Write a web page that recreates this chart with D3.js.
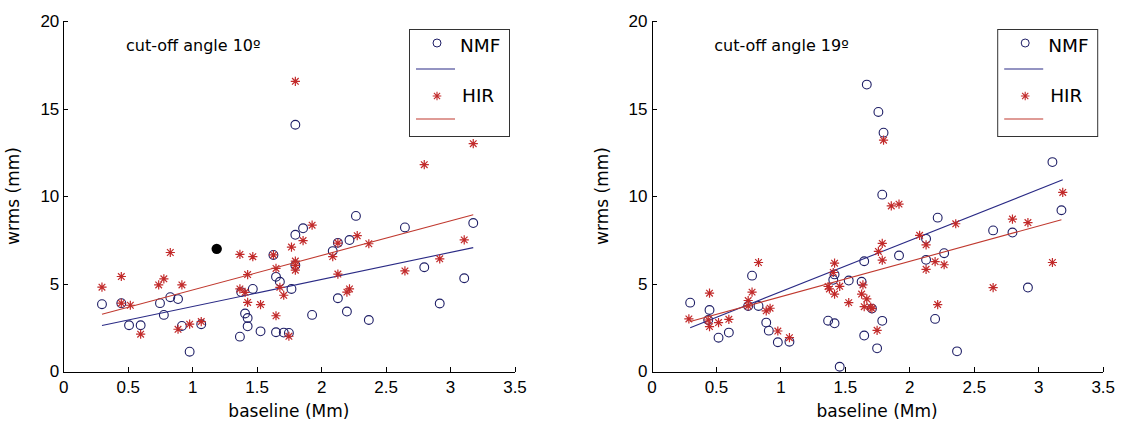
<!DOCTYPE html>
<html>
<head>
<meta charset="utf-8">
<script src="https://cdn.jsdelivr.net/npm/d3@7"></script>
<style>
  body { margin: 0; background: #fff; }
  svg { display: block; font-family: "DejaVu Sans", sans-serif; }
  .axis path, .axis line { stroke: #000; stroke-width: 1; shape-rendering: crispEdges; }
  .axis text { font-size: 17px; fill: #000; }
</style>
</head>
<body>
<svg id="chart" width="1124" height="423"></svg>
<script>
// tick labels and texts
var xTicks = [0, 0.5, 1, 1.5, 2, 2.5, 3, 3.5];
var yTicks = [0, 5, 10, 15, 20];
var titles = ["cut-off angle 10º", "cut-off angle 19º"];
var legendLabels = ["NMF", "HIR"];

// cut-off 10 deg, NMF (baseline Mm, wrms mm)
var nmf10 = [[0.30,3.84],[0.45,3.90],[0.51,2.64],[0.60,2.64],[0.75,3.90],[0.78,3.23],[0.83,4.24],[0.89,4.13],
  [0.92,2.60],[0.98,1.13],[1.07,2.70],[1.37,1.99],[1.38,4.53],[1.41,3.31],[1.43,3.05],[1.43,2.58],[1.47,4.71],
  [1.53,2.29],[1.63,6.65],[1.65,5.40],[1.68,5.12],[1.65,2.24],[1.71,2.22],[1.75,2.20],[1.77,4.71],[1.80,6.06],
  [1.80,7.80],[1.80,14.08],[1.86,8.17],[1.93,3.23],[2.09,6.87],[2.13,7.34],[2.13,4.18],[2.20,3.42],[2.22,7.50],
  [2.27,8.88],[2.37,2.94],[2.65,8.22],[2.80,5.95],[2.92,3.88],[3.11,5.32],[3.18,8.47]];
// cut-off 10 deg, HIR
var hir10 = [[0.30,4.81],[0.45,5.42],[0.45,3.90],[0.52,3.78],[0.60,2.13],[0.74,4.94],[0.78,5.29],[0.83,6.79],
  [0.89,2.41],[0.92,4.94],[0.98,2.70],[1.07,2.85],[1.37,6.68],[1.37,4.71],[1.41,4.52],[1.43,5.53],[1.43,3.94],
  [1.47,6.55],[1.53,3.82],[1.63,6.65],[1.65,5.88],[1.65,3.18],[1.68,4.80],[1.71,4.35],[1.75,2.01],[1.77,7.10],
  [1.80,6.30],[1.80,6.05],[1.80,5.78],[1.80,16.56],[1.86,7.47],[1.93,8.35],[2.09,6.56],[2.13,7.33],[2.13,5.56],
  [2.20,4.53],[2.22,4.71],[2.28,7.75],[2.37,7.29],[2.65,5.74],[2.80,11.80],[2.92,6.43],[3.11,7.51],[3.18,13.00]];
var extra10 = [[1.19,7.0]];
var fitNmf10 = [[0.30,2.62],[3.18,7.07]];
var fitHir10 = [[0.30,3.27],[3.18,8.94]];

// cut-off 19 deg, NMF
var nmf19 = [[0.30,3.93],[0.44,2.94],[0.45,3.51],[0.52,1.93],[0.60,2.22],[0.75,3.74],[0.78,5.47],[0.83,3.74],
  [0.89,2.79],[0.91,2.33],[0.98,1.67],[1.07,1.70],[1.37,2.90],[1.41,5.23],[1.42,5.54],[1.42,2.75],[1.46,0.27],
  [1.53,5.19],[1.63,5.12],[1.65,6.29],[1.65,2.05],[1.67,16.37],[1.71,3.59],[1.75,1.32],[1.76,14.81],[1.79,2.89],
  [1.79,10.09],[1.80,13.63],[1.92,6.62],[2.13,7.57],[2.13,6.37],[2.20,3.00],[2.22,8.78],[2.27,6.75],[2.37,1.15],
  [2.65,8.05],[2.80,7.93],[2.92,4.79],[3.11,11.95],[3.18,9.20]];
// cut-off 19 deg, HIR
var hir19 = [[0.29,3.00],[0.44,2.94],[0.45,4.47],[0.45,2.56],[0.52,2.79],[0.60,2.98],[0.75,4.05],[0.75,3.74],
  [0.78,4.53],[0.83,6.22],[0.89,3.46],[0.92,3.61],[0.98,2.31],[1.07,1.93],[1.37,4.85],[1.38,4.71],[1.41,5.65],
  [1.42,6.18],[1.42,4.42],[1.46,4.86],[1.53,3.93],[1.63,4.42],[1.64,4.94],[1.67,4.14],[1.65,3.70],[1.70,3.67],
  [1.71,3.59],[1.75,2.35],[1.76,6.85],[1.79,7.31],[1.79,6.35],[1.80,13.20],[1.86,9.45],[1.92,9.55],[2.08,7.77],
  [2.13,7.23],[2.13,5.83],[2.20,6.27],[2.22,3.82],[2.27,6.09],[2.36,8.43],[2.65,4.79],[2.80,8.70],[2.92,8.50],
  [3.11,6.22],[3.19,10.22]];
var extra19 = [];
var fitNmf19 = [[0.30,2.50],[3.19,10.94]];
var fitHir19 = [[0.30,2.85],[3.18,8.66]];

var circleColor = "#1e1e66";
var starColor = "#c22a2a";
var blueLine = "#2a2a85";
var redLine = "#c0392f";

var svg = d3.select("#chart");

var starPath = function(r){
  var d = r * 0.72;
  return "M" + (-r) + ",0H" + r + "M0," + (-r) + "V" + r +
    "M" + (-d) + "," + (-d) + "L" + d + "," + d +
    "M" + (-d) + "," + d + "L" + d + "," + (-d);
};

var drawPanel = function(left, title, nmf, hir, extra, fitN, fitH){
  var x = d3.scaleLinear().domain([0, 3.5]).range([left, left + 451.2]);
  var y = d3.scaleLinear().domain([0, 20]).range([371.5, 21]);
  var g = svg.append("g");

  var xAxis = d3.axisBottom(x).tickValues(xTicks).tickSizeInner(-5).tickSizeOuter(0).tickPadding(9)
    .tickFormat(function(d){ return d3.format("")(d); });
  var yAxis = d3.axisLeft(y).tickValues(yTicks).tickSizeInner(-5).tickSizeOuter(0).tickPadding(4);

  g.append("g").attr("class", "axis").attr("transform", "translate(0,371.5)").call(xAxis);
  g.append("g").attr("class", "axis").attr("transform", "translate(" + left + ",0)").call(yAxis);

  // axis titles
  g.append("text")
    .attr("x", left + 225.6).attr("y", 417)
    .attr("text-anchor", "middle")
    .style("font-size", "17px")
    .text("baseline (Mm)");
  g.append("text")
    .attr("transform", "translate(" + (left - 44) + ",196) rotate(-90)")
    .attr("text-anchor", "middle")
    .style("font-size", "17px")
    .text("wrms (mm)");

  g.append("text")
    .attr("x", left + 62.7).attr("y", 51)
    .style("font-size", "16px")
    .text(title);

  // NMF circles
  g.selectAll(".nmf").data(nmf).enter().append("circle")
    .attr("class", "nmf")
    .attr("cx", function(d){ return x(d[0]); })
    .attr("cy", function(d){ return y(d[1]); })
    .attr("r", 4.4)
    .attr("fill", "none")
    .attr("stroke", circleColor)
    .attr("stroke-width", 1.1);

  var line = d3.line().x(function(d){ return x(d[0]); }).y(function(d){ return y(d[1]); });

  g.append("path").datum(fitN).attr("d", line)
    .attr("fill", "none").attr("stroke", blueLine).attr("stroke-width", 1.1);

  // HIR stars
  g.selectAll(".hir").data(hir).enter().append("path")
    .attr("class", "hir")
    .attr("transform", function(d){ return "translate(" + x(d[0]) + "," + y(d[1]) + ")"; })
    .attr("d", starPath(4.6))
    .attr("fill", "none")
    .attr("stroke", starColor)
    .attr("stroke-width", 1.2);

  g.append("path").datum(fitH).attr("d", line)
    .attr("fill", "none").attr("stroke", redLine).attr("stroke-width", 1.1);

  g.selectAll(".extra").data(extra).enter().append("circle")
    .attr("cx", function(d){ return x(d[0]); })
    .attr("cy", function(d){ return y(d[1]); })
    .attr("r", 5.2)
    .attr("fill", "#000");

  // legend
  var lx = left + 345.7;
  var lg = g.append("g").attr("transform", "translate(" + lx + ",29)");
  lg.append("rect").attr("x", 0.5).attr("y", 0.5).attr("width", 100).attr("height", 107)
    .attr("fill", "#fff").attr("stroke", "#333").attr("stroke-width", 1);
  lg.append("circle").attr("cx", 28).attr("cy", 14).attr("r", 4)
    .attr("fill", "none").attr("stroke", circleColor);
  lg.append("text").attr("x", 51).attr("y", 23).style("font-size", "18.5px").text(legendLabels[0]);
  lg.append("line").attr("x1", 7).attr("x2", 46).attr("y1", 40).attr("y2", 40)
    .attr("stroke", blueLine).attr("stroke-width", 1.1);
  lg.append("path").attr("transform", "translate(28,67)").attr("d", starPath(4.3))
    .attr("fill", "none").attr("stroke", starColor).attr("stroke-width", 1.1);
  lg.append("text").attr("x", 53).attr("y", 73).style("font-size", "18.5px").text(legendLabels[1]);
  lg.append("line").attr("x1", 7).attr("x2", 46).attr("y1", 90).attr("y2", 90)
    .attr("stroke", redLine).attr("stroke-width", 1.1);
};

drawPanel(63.3, titles[0], nmf10, hir10, extra10, fitNmf10, fitHir10);
drawPanel(651.5, titles[1], nmf19, hir19, extra19, fitNmf19, fitHir19);
</script>
</body>
</html>
